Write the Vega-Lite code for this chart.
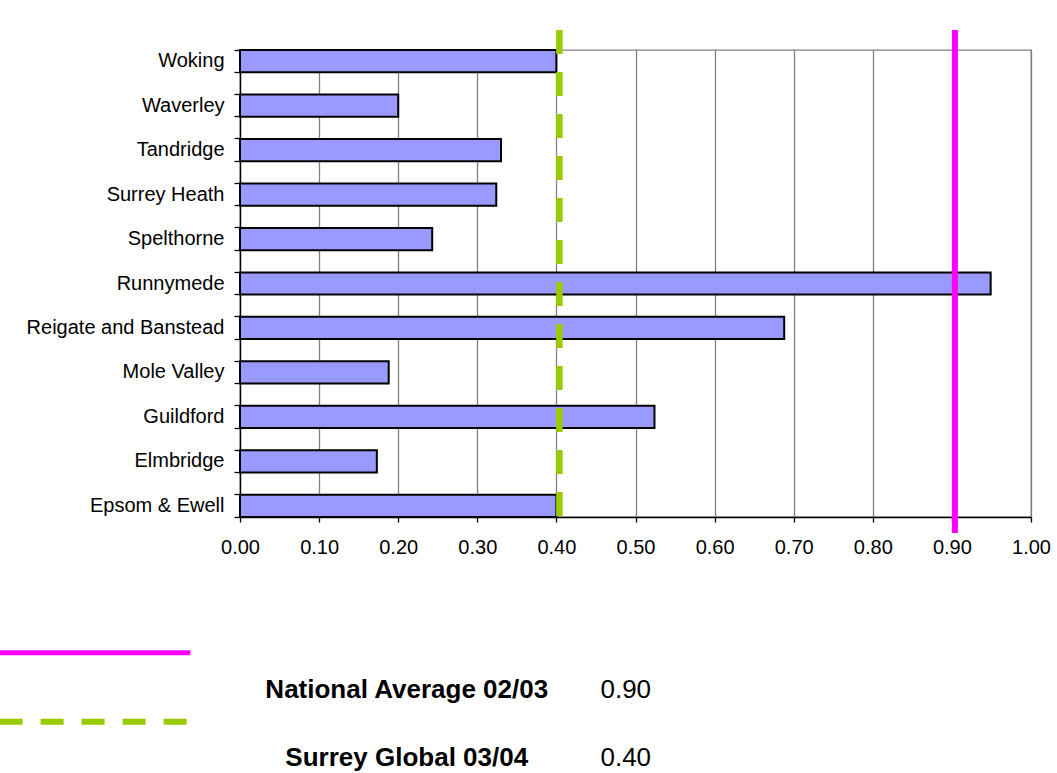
{
  "$schema": "https://vega.github.io/schema/vega-lite/v6.json",
  "width": 791,
  "height": 467,
  "autosize": "none",
  "padding": {"left": 240, "top": 50, "right": 26, "bottom": 256},
  "background": "white",
  "config": {
    "view": {"stroke": "#808080", "strokeWidth": 1.3},
    "font": "Liberation Sans",
    "text": {"font": "Liberation Sans"}
  },
  "datasets": {
    "districts": [
      {"district": "Woking", "value": 0.40},
      {"district": "Waverley", "value": 0.20},
      {"district": "Tandridge", "value": 0.33},
      {"district": "Surrey Heath", "value": 0.324},
      {"district": "Spelthorne", "value": 0.243},
      {"district": "Runnymede", "value": 0.949},
      {"district": "Reigate and Banstead", "value": 0.688},
      {"district": "Mole Valley", "value": 0.188},
      {"district": "Guildford", "value": 0.524},
      {"district": "Elmbridge", "value": 0.173},
      {"district": "Epsom & Ewell", "value": 0.40}
    ],
    "refs": [
      {"name": "National Average 02/03", "value": 0.90},
      {"name": "Surrey Global 03/04", "value": 0.40}
    ]
  },
  "layer": [
    {
      "data": {"name": "districts"},
      "mark": {"type": "bar", "fill": "#9999FF", "stroke": "#000000", "strokeWidth": 2},
      "encoding": {
        "x": {
          "field": "value", "type": "quantitative", "title": null,
          "scale": {"domain": [0, 1], "nice": false},
          "axis": {
            "values": [0, 0.1, 0.2, 0.3, 0.4, 0.5, 0.6, 0.7, 0.8, 0.9, 1.0],
            "format": ".2f",
            "grid": true, "gridColor": "#808080", "gridWidth": 1.3, "gridOpacity": 1,
            "domainColor": "#000000", "domainWidth": 1.3,
            "tickColor": "#000000", "tickSize": 5, "tickWidth": 1.3,
            "labelFontSize": 20, "labelFont": "Liberation Sans", "labelColor": "#000000",
            "labelPadding": 15, "labelOverlap": false, "labelFlush": false
          }
        },
        "y": {
          "field": "district", "type": "nominal", "sort": null, "title": null,
          "scale": {"paddingInner": 0.5, "paddingOuter": 0},
          "axis": {
            "orient": "left",
            "bandPosition": 0,
            "domainColor": "#000000", "domainWidth": 1.3,
            "tickColor": "#000000", "tickSize": 6, "tickWidth": 1.3,
            "labelFontSize": 20, "labelFont": "Liberation Sans", "labelColor": "#000000",
            "labelPadding": 10, "labelBaseline": "middle", "labelLimit": 0
          }
        }
      }
    },
    {
      "data": {"name": "districts"},
      "mark": {"type": "bar", "opacity": 0},
      "encoding": {
        "x": {"field": "value", "type": "quantitative", "title": null, "scale": {"domain": [0, 1], "nice": false}},
        "y": {
          "field": "district", "type": "nominal", "sort": null, "title": null,
          "scale": {"paddingInner": 0.5, "paddingOuter": 0},
          "axis": {
            "orient": "left",
            "bandPosition": 1,
            "domain": false, "labels": false,
            "tickColor": "#000000", "tickSize": 6, "tickWidth": 1.3
          }
        }
      }
    },
    {
      "data": {"name": "refs"},
      "transform": [{"filter": "datum.name === 'National Average 02/03'"}],
      "mark": {"type": "rule", "color": "#FF00FF", "strokeWidth": 6, "xOffset": 3},
      "encoding": {
        "x": {"field": "value", "type": "quantitative", "title": null, "scale": {"domain": [0, 1], "nice": false}},
        "y": {"datum": 1.043, "type": "quantitative", "scale": {"domain": [0, 1], "nice": false}, "axis": null},
        "y2": {"datum": -0.034}
      }
    },
    {
      "data": {"name": "refs"},
      "transform": [{"filter": "datum.name === 'Surrey Global 03/04'"}],
      "mark": {"type": "rule", "color": "#99CC00", "strokeWidth": 6.5, "xOffset": 3, "strokeDash": [24, 18]},
      "encoding": {
        "x": {"field": "value", "type": "quantitative", "title": null, "scale": {"domain": [0, 1], "nice": false}},
        "y": {"datum": 1.043, "type": "quantitative", "scale": {"domain": [0, 1], "nice": false}, "axis": null},
        "y2": {"datum": -0.034}
      }
    },
    {
      "data": {"name": "refs"},
      "transform": [{"filter": "datum.name === 'National Average 02/03'"}],
      "mark": {"type": "rule", "color": "#FF00FF", "strokeWidth": 5},
      "encoding": {
        "x": {"datum": -0.3039, "type": "quantitative", "title": null, "scale": {"domain": [0, 1], "nice": false}},
        "x2": {"datum": -0.0627},
        "y": {"datum": -0.2906, "type": "quantitative", "scale": {"domain": [0, 1], "nice": false}, "axis": null}
      }
    },
    {
      "data": {"name": "refs"},
      "transform": [{"filter": "datum.name === 'Surrey Global 03/04'"}],
      "mark": {"type": "rule", "color": "#99CC00", "strokeWidth": 6, "strokeDash": [23, 18]},
      "encoding": {
        "x": {"datum": -0.3039, "type": "quantitative", "title": null, "scale": {"domain": [0, 1], "nice": false}},
        "x2": {"datum": -0.0661},
        "y": {"datum": -0.4383, "type": "quantitative", "scale": {"domain": [0, 1], "nice": false}, "axis": null}
      }
    },
    {
      "data": {"name": "refs"},
      "transform": [{"filter": "datum.name === 'National Average 02/03'"}],
      "mark": {"type": "text", "fontSize": 26, "fontWeight": "bold", "align": "center", "baseline": "middle", "color": "#000000"},
      "encoding": {
        "text": {"field": "name", "type": "nominal"},
        "x": {"datum": 0.2108, "type": "quantitative", "title": null, "scale": {"domain": [0, 1], "nice": false}},
        "y": {"datum": -0.3704, "type": "quantitative", "scale": {"domain": [0, 1], "nice": false}, "axis": null}
      }
    },
    {
      "data": {"name": "refs"},
      "transform": [{"filter": "datum.name === 'National Average 02/03'"}],
      "mark": {"type": "text", "fontSize": 26, "align": "left", "baseline": "middle", "color": "#000000"},
      "encoding": {
        "text": {"field": "value", "type": "quantitative", "format": ".2f"},
        "x": {"datum": 0.4557, "type": "quantitative", "title": null, "scale": {"domain": [0, 1], "nice": false}},
        "y": {"datum": -0.3704, "type": "quantitative", "scale": {"domain": [0, 1], "nice": false}, "axis": null}
      }
    },
    {
      "data": {"name": "refs"},
      "transform": [{"filter": "datum.name === 'Surrey Global 03/04'"}],
      "mark": {"type": "text", "fontSize": 26, "fontWeight": "bold", "align": "center", "baseline": "middle", "color": "#000000"},
      "encoding": {
        "text": {"field": "name", "type": "nominal"},
        "x": {"datum": 0.2108, "type": "quantitative", "title": null, "scale": {"domain": [0, 1], "nice": false}},
        "y": {"datum": -0.5161, "type": "quantitative", "scale": {"domain": [0, 1], "nice": false}, "axis": null}
      }
    },
    {
      "data": {"name": "refs"},
      "transform": [{"filter": "datum.name === 'Surrey Global 03/04'"}],
      "mark": {"type": "text", "fontSize": 26, "align": "left", "baseline": "middle", "color": "#000000"},
      "encoding": {
        "text": {"field": "value", "type": "quantitative", "format": ".2f"},
        "x": {"datum": 0.4557, "type": "quantitative", "title": null, "scale": {"domain": [0, 1], "nice": false}},
        "y": {"datum": -0.5161, "type": "quantitative", "scale": {"domain": [0, 1], "nice": false}, "axis": null}
      }
    }
  ],
  "resolve": {"scale": {"y": "independent"}, "axis": {"y": "independent"}}
}
